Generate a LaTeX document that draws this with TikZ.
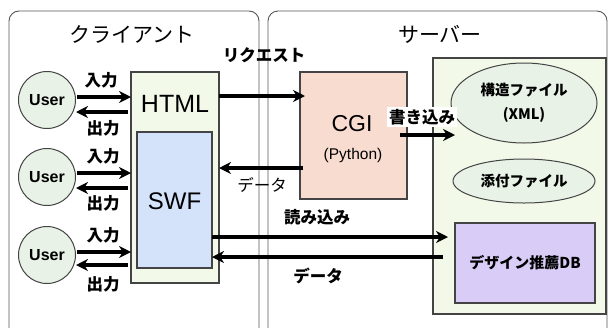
\documentclass[tikz,border=0pt]{standalone}
\usepackage{fontspec}
\setmainfont{Liberation Sans}
\newfontfamily\jp{Noto Sans CJK JP}
\usetikzlibrary{arrows.meta,shapes.geometric}
\definecolor{panelline}{HTML}{555555}
\definecolor{boxline}{HTML}{444444}
\definecolor{htmlfill}{HTML}{F2F9E8}
\definecolor{swffill}{HTML}{D4E2FA}
\definecolor{userfill}{HTML}{E8F2E6}
\definecolor{cgifill}{HTML}{F9DCD0}
\definecolor{dbfill}{HTML}{D9CDF7}
\tikzset{
  panel/.style={draw=panelline, line width=0.9pt, rounded corners=10pt},
  userc/.style={circle, draw=boxline, fill=userfill, line width=1pt, minimum size=57pt, inner sep=0pt, font=\fontsize{16}{18}\selectfont\bfseries},
  blk/.style={draw=boxline, line width=1.3pt, inner sep=0pt},
  flow/.style={line width=3.8pt, -{Stealth[length=12pt,width=12pt]}},
  lbl/.style={font=\jp\fontsize{16.5}{18}\selectfont\bfseries, inner sep=1pt},
  lblr/.style={font=\jp\fontsize{16.5}{18}\selectfont, inner sep=1pt},
  ell/.style={ellipse, draw=boxline, fill=userfill, line width=1pt, inner sep=0pt, align=center, font=\jp\fontsize{14.5}{24}\selectfont\bfseries},
}
\begin{document}
\begin{tikzpicture}[x=1pt,y=-1pt]
\useasboundingbox (0,0) rectangle (609,327);
\clip (0,0) rectangle (609,327);
% panels
\draw[panel] (9,345) -- (9,11) -- (259,11) -- (259,345);
\draw[panel] (268,345) -- (268,11) -- (607,11) -- (607,345);
\node[font=\jp\fontsize{21}{24}\selectfont] (tclient) at (132,34) {クライアント};
\node[font=\jp\fontsize{21}{24}\selectfont] (tserver) at (440,34) {サーバー};
% client boxes
\node[blk, fill=htmlfill, minimum width=88pt, minimum height=211pt] (html) at (175,177.5) {};
\node[font=\fontsize{25}{27}\selectfont] (htmlt) at (175,104) {HTML};
\node[blk, fill=swffill, minimum width=75pt, minimum height=136pt] (swf) at (174.5,200) {};
\node[font=\fontsize{24}{26}\selectfont] (swft) at (174.5,201) {SWF};
% users
\node[userc] (u1) at (47,100) {User};
\node[userc] (u2) at (47,177) {User};
\node[userc] (u3) at (47,255) {User};
% user arrows
\coordinate (a1s) at (77,97);  \coordinate (a1e) at (131,97);
\coordinate (b1s) at (128,112); \coordinate (b1e) at (76,112);
\coordinate (a2s) at (77,173);  \coordinate (a2e) at (131,173);
\coordinate (b2s) at (128,188); \coordinate (b2e) at (76,188);
\coordinate (a3s) at (77,252);  \coordinate (a3e) at (131,252);
\coordinate (b3s) at (128,265); \coordinate (b3e) at (76,265);
\draw[flow] (a1s) -- (a1e);
\draw[flow] (b1s) -- (b1e);
\draw[flow] (a2s) -- (a2e);
\draw[flow] (b2s) -- (b2e);
\draw[flow] (a3s) -- (a3e);
\draw[flow] (b3s) -- (b3e);
\node[lbl] (in1) at (101,80) {入力};
\node[lbl] (out1) at (103,128) {出力};
\node[lbl] (in2) at (103,156) {入力};
\node[lbl] (out2) at (103,203) {出力};
\node[lbl] (in3) at (103,235) {入力};
\node[lbl] (out3) at (103,284) {出力};
% CGI
\node[blk, fill=cgifill, minimum width=107pt, minimum height=127pt] (cgi) at (353.5,135.5) {};
\node[font=\fontsize{23}{24}\selectfont] (cgit) at (352,124) {CGI};
\node[font=\fontsize{15.5}{17}\selectfont] (pyt) at (353,155) {(Python)};
% server box
\node[blk, fill=htmlfill, minimum width=173pt, minimum height=256pt] (srv) at (519.5,186) {};
\node[ell, minimum width=146pt, minimum height=80pt] (xml) at (524,103) {構造ファイル\\(XML)};
\node[ell, minimum width=142pt, minimum height=44pt] (att) at (524,181) {添付ファイル};
\node[blk, fill=dbfill, minimum width=140pt, minimum height=80pt, font=\jp\fontsize{15}{17}\selectfont\bfseries] (db) at (525,263) {デザイン推薦DB};
% request / data
\coordinate (req1) at (219,96); \coordinate (req2) at (305,96);
\draw[flow] (req1) -- (req2);
\node[lbl] (reqt) at (264,55) {リクエスト};
\coordinate (dat1) at (303,168); \coordinate (dat2) at (219,168);
\draw[flow] (dat1) -- (dat2);
\node[lblr] (datt) at (262,185) {データ};
% write
\coordinate (w1) at (400,135); \coordinate (w2) at (455,135);
\draw[flow] (w1) -- (w2);
\node[lbl, fill=white, inner sep=2pt] (wt) at (422,117) {書き込み};
% read / data
\coordinate (r1) at (212,237); \coordinate (r2) at (448,237);
\draw[flow] (r1) -- (r2);
\node[lbl] (rt) at (317,217) {読み込み};
\coordinate (d1) at (443,257); \coordinate (d2) at (212,257);
\draw[flow] (d1) -- (d2);
\node[lbl] (dt) at (318,276) {データ};
\end{tikzpicture}
\end{document}
